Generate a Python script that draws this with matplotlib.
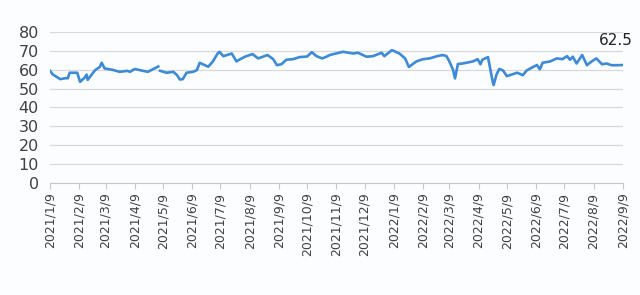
import numpy as np
import pandas as pd
import matplotlib
matplotlib.use("Agg")
import matplotlib.pyplot as plt

# values (weekly-ish samples), NaN = gap in the line
dates = [
    "2021-01-09", "2021-01-12", "2021-01-20", "2021-01-25", "2021-01-28", "2021-01-30",
    "2021-02-07", "2021-02-10", "2021-02-15", "2021-02-17", "2021-02-18", "2021-02-26",
    "2021-03-03", "2021-03-05", "2021-03-08", "2021-03-17", "2021-03-24", "2021-04-01",
    "2021-04-04", "2021-04-09", "2021-04-18", "2021-04-23", "2021-04-28", "2021-05-04",
    "2021-05-05",
    "2021-05-06", "2021-05-13", "2021-05-20", "2021-05-24", "2021-05-27", "2021-05-30",
    "2021-06-03", "2021-06-10", "2021-06-14", "2021-06-17", "2021-06-22", "2021-06-26",
    "2021-07-01", "2021-07-06", "2021-07-08", "2021-07-12", "2021-07-16", "2021-07-21",
    "2021-07-26", "2021-07-30", "2021-08-04", "2021-08-12", "2021-08-18", "2021-08-23",
    "2021-08-28", "2021-09-03", "2021-09-07", "2021-09-12", "2021-09-17", "2021-09-24",
    "2021-10-01", "2021-10-09", "2021-10-14", "2021-10-19", "2021-10-25", "2021-10-30",
    "2021-11-02", "2021-11-16", "2021-11-27", "2021-12-02", "2021-12-11", "2021-12-18",
    "2021-12-27", "2021-12-30", "2022-01-07", "2022-01-15", "2022-01-21", "2022-01-25",
    "2022-02-02", "2022-02-09", "2022-02-16", "2022-02-24", "2022-03-02", "2022-03-06",
    "2022-03-09", "2022-03-13", "2022-03-15", "2022-03-18", "2022-03-23", "2022-04-03",
    "2022-04-08", "2022-04-11", "2022-04-13", "2022-04-19", "2022-04-21", "2022-04-24",
    "2022-04-25", "2022-04-28", "2022-05-01", "2022-05-05", "2022-05-09", "2022-05-12",
    "2022-05-20", "2022-05-26", "2022-05-30", "2022-06-06", "2022-06-10", "2022-06-13",
    "2022-06-16", "2022-06-24", "2022-07-01", "2022-07-07", "2022-07-12", "2022-07-15",
    "2022-07-18", "2022-07-22", "2022-07-28", "2022-08-02", "2022-08-07", "2022-08-12",
    "2022-08-18", "2022-08-23", "2022-08-28", "2022-09-03", "2022-09-09",
]
values = [
    59.5, 57.5, 55.0, 55.5, 55.5, 58.4,
    58.4, 53.6, 55.9, 57.4, 54.6, 59.8,
    61.5, 63.7, 60.7, 59.9, 58.9, 59.4,
    58.9, 60.4, 59.4, 58.9, 60.2, 61.7,
    np.nan,
    59.4, 58.4, 58.9, 57.1, 54.8, 55.0,
    58.4, 58.9, 59.8, 63.7, 62.5, 61.6,
    64.4, 68.6, 69.5, 67.2, 67.8, 68.6,
    64.4, 65.6, 66.9, 68.3, 66.0, 66.9,
    67.8, 65.6, 62.4, 63.0, 65.3, 65.6,
    66.7, 67.0, 69.3, 67.2, 66.0, 67.0,
    67.8, 69.5, 68.6, 69.0, 66.9, 67.2,
    69.0, 67.2, 70.4, 68.6, 66.0, 61.5,
    64.4, 65.6, 66.0, 67.2, 67.8, 67.2,
    64.4, 59.8, 55.4, 63.0, 63.3, 64.4,
    65.6, 62.9, 65.3, 66.7, 61.5, 53.6,
    51.9, 57.4, 60.4, 59.6, 56.6, 57.1,
    58.4, 57.1, 59.6, 61.5, 62.5, 60.2,
    63.7, 64.4, 66.0, 65.6, 67.2, 65.3,
    66.9, 63.3, 67.8, 62.4, 64.4, 66.0,
    62.9, 63.3, 62.4, 62.4, 62.5,
]
last_label = "62.5"

x = pd.to_datetime(dates)
# monthly ticks on the 9th
tick_dates = pd.date_range("2021-01-01", "2022-09-01", freq="MS") + pd.Timedelta(days=8)
tick_labels = ["{}/{}/9".format(d.year, d.month) for d in tick_dates]

text_col = "#404040"
line_col = "#3d8ad8"

fig = plt.figure(figsize=(6.4, 2.95), dpi=100)
fig.patch.set_facecolor("#fcfdff")
ax = fig.add_axes([0.078, 0.38, 0.895, 0.5115])
ax.set_facecolor("#fcfdff")

ax.plot(x, values, color=line_col, lw=1.9, solid_joinstyle="round")

ax.set_ylim(0, 80)
ax.set_yticks(np.arange(0, 81, 10))
ax.set_xlim(x[0], x[-1])
ax.set_xticks(tick_dates)
ax.set_xticklabels(tick_labels, rotation=90, fontsize=9, color=text_col)
ax.tick_params(axis="y", length=0, labelsize=11.5, labelcolor=text_col, pad=8)
ax.tick_params(axis="x", length=4, color="#c8c8c8", pad=3)

ax.grid(axis="y", color="#d9d9d9", lw=0.9)
ax.set_axisbelow(True)
for s in ["top", "right", "left"]:
    ax.spines[s].set_visible(False)
ax.spines["bottom"].set_color("#c8c8c8")

ax.annotate(last_label, (x[-1], values[-1]), xytext=(-5, 18),
            textcoords="offset points", ha="center", va="center",
            fontsize=11, color="#222222", annotation_clip=False)

fig.savefig("out.png", dpi=100, facecolor=fig.get_facecolor())
